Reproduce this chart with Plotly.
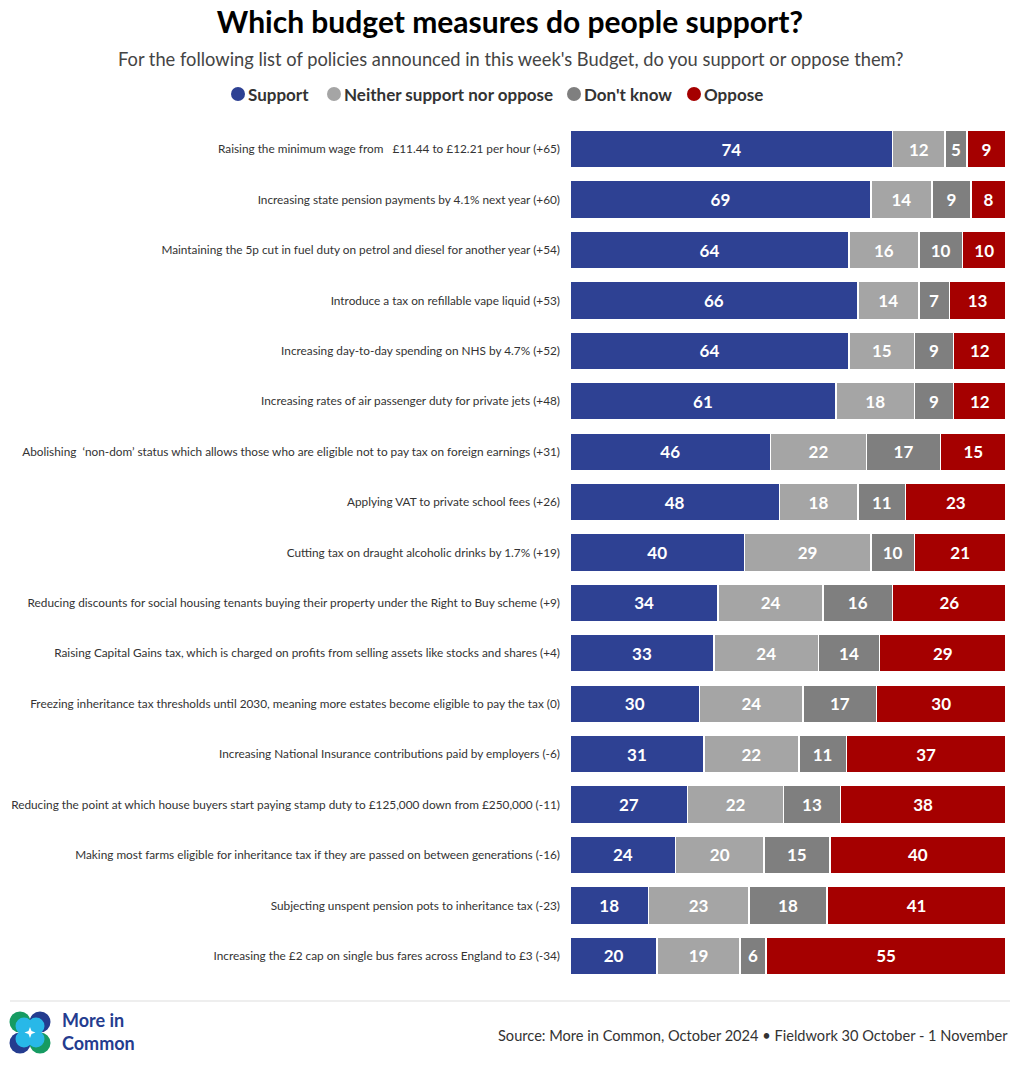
import plotly.graph_objects as go

categories = [
    "Raising the minimum wage from   £11.44 to £12.21 per hour (+65)",
    "Increasing state pension payments by 4.1% next year (+60)",
    "Maintaining the 5p cut in fuel duty on petrol and diesel for another year (+54)",
    "Introduce a tax on refillable vape liquid (+53)",
    "Increasing day-to-day spending on NHS by 4.7% (+52)",
    "Increasing rates of air passenger duty for private jets (+48)",
    "Abolishing  ‘non-dom’ status which allows those who are eligible not to pay tax on foreign earnings (+31)",
    "Applying VAT to private school fees (+26)",
    "Cutting tax on draught alcoholic drinks by 1.7% (+19)",
    "Reducing discounts for social housing tenants buying their property under the Right to Buy scheme (+9)",
    "Raising Capital Gains tax, which is charged on profits from selling assets like stocks and shares (+4)",
    "Freezing inheritance tax thresholds until 2030, meaning more estates become eligible to pay the tax (0)",
    "Increasing National Insurance contributions paid by employers (-6)",
    "Reducing the point at which house buyers start paying stamp duty to £125,000 down from £250,000 (-11)",
    "Making most farms eligible for inheritance tax if they are passed on between generations (-16)",
    "Subjecting unspent pension pots to inheritance tax (-23)",
    "Increasing the £2 cap on single bus fares across England to £3 (-34)",
]
support = [74, 69, 64, 66, 64, 61, 46, 48, 40, 34, 33, 30, 31, 27, 24, 18, 20]
neither = [12, 14, 16, 14, 15, 18, 22, 18, 29, 24, 24, 24, 22, 22, 20, 23, 19]
dont_know = [5, 9, 10, 7, 9, 9, 17, 11, 10, 16, 14, 17, 11, 13, 15, 18, 6]
oppose = [9, 8, 10, 13, 12, 12, 15, 23, 21, 26, 29, 30, 37, 38, 40, 41, 55]

series_names = ["Support", "Neither support nor oppose", "Don't know", "Oppose"]
series_values = [support, neither, dont_know, oppose]
colors = ["#2e4193", "#a5a5a5", "#7f7f7f", "#a50000"]

FONT = "Lato"
OFF = 8  # page body margin; layout is specified in screen pixels below
W, H = 1020 - OFF, 1066 - OFF
L = 570 - OFF
R = W - (1006 - OFF)
T = 124 - OFF
B = H - (981 - OFF)
PW = W - L - R
PH = H - T - B


def px(sx):
    return (sx - OFF - L) / PW


def py(sy):
    return (H - B - (sy - OFF)) / PH


fig = go.Figure()
for name, vals, col in zip(series_names, series_values, colors):
    fig.add_trace(go.Bar(
        y=categories, x=vals, orientation="h", name=name,
        marker=dict(color=col, line=dict(color="white", width=1.5)),
        text=[str(v) for v in vals], texttemplate="%{text}",
        textposition="inside", insidetextanchor="middle", textangle=0,
        textfont=dict(family=FONT, size=17, color="white", weight="bold"),
        constraintext="none", showlegend=False, hoverinfo="x+y+name",
    ))

fig.update_layout(
    width=W, height=H,
    margin=dict(l=L, r=R, t=T, b=B, autoexpand=False),
    barmode="stack", barnorm="percent", bargap=0.25,
    showlegend=False,
    plot_bgcolor="white", paper_bgcolor="white",
    font=dict(family=FONT, color="#333333"),
    title=dict(text="<b>Which budget measures do people support?</b>",
               x=(510 - OFF) / W, xref="container", xanchor="center",
               y=1 - 4 / H, yref="container", yanchor="top", pad=dict(t=0),
               font=dict(family=FONT, size=30, color="#000000")),
    xaxis=dict(visible=False, range=[0, 100], fixedrange=True, automargin=False),
    yaxis=dict(autorange="reversed", showgrid=False, zeroline=False,
               showline=False, ticks="", ticklabelstandoff=9, automargin=False,
               tickfont=dict(family=FONT, size=11.8, color="#333333")),
)

# subtitle
fig.add_annotation(text="For the following list of policies announced in this week's Budget, do you support or oppose them?",
                   xref="paper", yref="paper", x=px(510), y=py(59),
                   xanchor="center", yanchor="middle", showarrow=False,
                   font=dict(family=FONT, size=18.3, color="#444444"))


def circle(cx, cy, r, col):
    fig.add_shape(type="circle", xref="paper", yref="paper",
                  x0=px(cx - r), x1=px(cx + r), y0=py(cy + r), y1=py(cy - r),
                  fillcolor=col, line=dict(width=0), layer="above")


# manual legend (circle + bold label)
legend_x = [238, 334, 574, 694]
for name, col, lx in zip(series_names, colors, legend_x):
    circle(lx, 94, 7, col)
    fig.add_annotation(text="<b>" + name + "</b>", xref="paper", yref="paper",
                       x=px(lx + 8), y=py(94), xanchor="left", yanchor="middle",
                       showarrow=False,
                       font=dict(family=FONT, size=17, color="#333333"))

# footer line
fig.add_shape(type="line", xref="paper", yref="paper",
              x0=px(10), x1=px(1010), y0=py(1001), y1=py(1001),
              line=dict(color="#dddddd", width=1))

# source
fig.add_annotation(text="Source: More in Common, October 2024 • Fieldwork 30 October - 1 November",
                   xref="paper", yref="paper", x=px(1010), y=py(1035),
                   xanchor="right", yanchor="middle", showarrow=False,
                   font=dict(family=FONT, size=14.6, color="#333333"))

# logo
navy = "#243c8f"
green = "#169b62"
cyan = "#28b8e8"
circle(20, 1022, 10.5, green)
circle(40, 1022, 10.5, navy)
circle(20, 1043, 10.5, navy)
circle(40, 1043, 10.5, green)
circle(24, 1026, 8.5, cyan)
circle(36, 1026, 8.5, cyan)
circle(24, 1039, 8.5, cyan)
circle(36, 1039, 8.5, cyan)
# small white four-point star in the centre of the logo
cx, cy, a, b = 30, 1032.5, 5.5, 1.5
pts = [(cx, cy - a), (cx + b, cy - b), (cx + a, cy), (cx + b, cy + b),
       (cx, cy + a), (cx - b, cy + b), (cx - a, cy), (cx - b, cy - b)]
path = "M " + " L ".join(f"{px(x):.5f},{py(y):.5f}" for x, y in pts) + " Z"
fig.add_shape(type="path", xref="paper", yref="paper", path=path,
              fillcolor="white", line=dict(width=0), layer="above")

fig.add_annotation(text="<b>More in<br>Common</b>", xref="paper", yref="paper",
                   x=px(60), y=py(1032), xanchor="left", yanchor="middle",
                   align="left", showarrow=False,
                   font=dict(family=FONT, size=18, color="#243c8f"))

fig.write_html("out.html")
